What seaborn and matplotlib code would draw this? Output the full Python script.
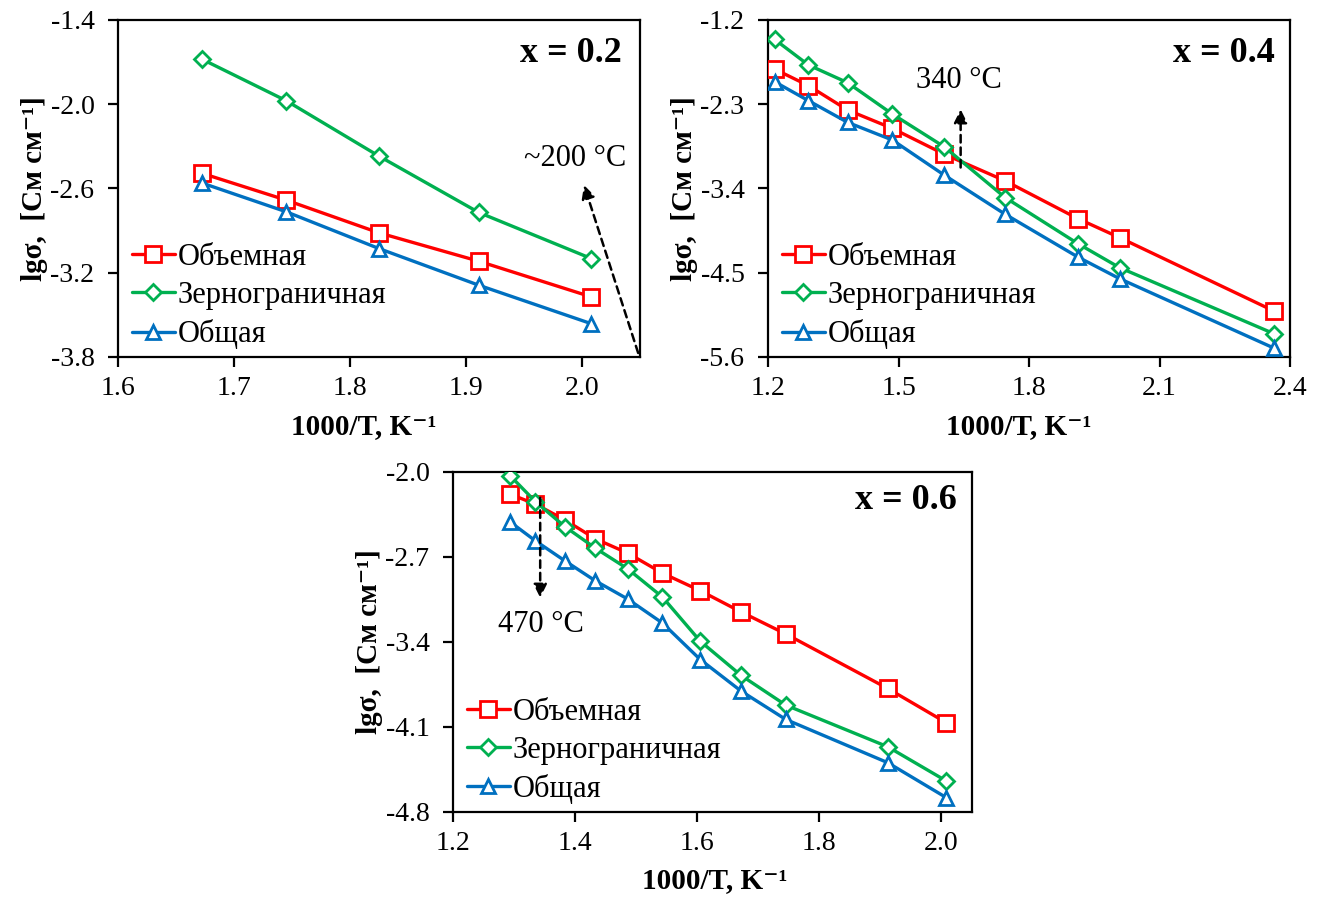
import numpy as np
import pandas as pd
import matplotlib
matplotlib.use("Agg")
import matplotlib.pyplot as plt
from matplotlib.ticker import FormatStrFormatter
import seaborn as sns

# ---------------- data ----------------
series_names = ["Объемная", "Зернограничная", "Общая"]

# x = 0.2
x02 = [1.672, 1.745, 1.825, 1.911, 2.008]
bulk02 = [-2.491, -2.683, -2.916, -3.118, -3.372]
gb02 = [-1.678, -1.975, -2.370, -2.771, -3.099]
tot02 = [-2.560, -2.766, -3.028, -3.289, -3.563]

# x = 0.4
x04 = [1.215, 1.293, 1.383, 1.486, 1.605, 1.745, 1.912, 2.008, 2.363]
bulk04 = [-1.841, -2.058, -2.376, -2.616, -2.952, -3.300, -3.793, -4.041, -5.000]
gb04 = [-1.453, -1.788, -2.019, -2.429, -2.856, -3.518, -4.119, -4.433, -5.296]
tot04 = [-2.006, -2.254, -2.537, -2.768, -3.225, -3.736, -4.294, -4.577, -5.484]

# x = 0.6
x06 = [1.294, 1.335, 1.383, 1.433, 1.486, 1.543, 1.605, 1.672, 1.745, 1.912, 2.008]
bulk06 = [-2.186, -2.268, -2.397, -2.553, -2.671, -2.836, -2.981, -3.156, -3.337, -3.786, -4.068]
gb06 = [-2.036, -2.247, -2.452, -2.630, -2.800, -3.033, -3.397, -3.679, -3.923, -4.266, -4.548]
tot06 = [-2.416, -2.570, -2.734, -2.899, -3.049, -3.247, -3.548, -3.808, -4.041, -4.397, -4.685]

# tick labels
xticks02 = [1.6, 1.7, 1.8, 1.9, 2.0]
yticks02 = [-3.8, -3.2, -2.6, -2.0, -1.4]
xticks04 = [1.2, 1.5, 1.8, 2.1, 2.4]
yticks04 = [-5.6, -4.5, -3.4, -2.3, -1.2]
xticks06 = [1.2, 1.4, 1.6, 1.8, 2.0]
yticks06 = [-4.8, -4.1, -3.4, -2.7, -2.0]

panel_titles = ["x = 0.2", "x = 0.4", "x = 0.6"]
annot_texts = ["~200 °C", "340 °C", "470 °C"]
xlabel = "1000/T, K⁻¹"
ylabel = "lgσ,  [См см⁻¹]"

# ---------------- style ----------------
sns.set_style("ticks")
plt.rcParams["font.family"] = ["Liberation Serif", "DejaVu Serif"]
plt.rcParams["axes.unicode_minus"] = False
plt.rcParams["text.color"] = "black"
plt.rcParams["axes.labelcolor"] = "black"

colors = ["#FF0000", "#00B050", "#0070C0"]
markers = ["s", "D", "^"]
msizes = [11, 8, 10]

fig = plt.figure(figsize=(13.23, 8.99), dpi=100)
ax1 = fig.add_axes([0.0892, 0.6029, 0.3946, 0.3749])
ax2 = fig.add_axes([0.5805, 0.6029, 0.3946, 0.3749])
ax3 = fig.add_axes([0.3424, 0.0972, 0.3923, 0.3782])

panels = [
    (ax1, x02, [bulk02, gb02, tot02], (1.6, 2.05), xticks02, (-3.8, -1.4), yticks02, 0.47),
    (ax2, x04, [bulk04, gb04, tot04], (1.2, 2.4), xticks04, (-5.6, -1.2), yticks04, 0.48),
    (ax3, x06, [bulk06, gb06, tot06], (1.2, 2.05), xticks06, (-4.8, -2.0), yticks06, 0.505),
]

for ax, xs, ys_list, xlim, xt, ylim, yt, xlab_x in panels:
    for name, ys, c, m, ms in zip(series_names, ys_list, colors, markers, msizes):
        df = pd.DataFrame({"x": xs, "y": ys})
        sns.lineplot(data=df, x="x", y="y", ax=ax, sort=False, color=c,
                     marker=m, markersize=ms, markerfacecolor="white",
                     markeredgecolor=c, markeredgewidth=2, linewidth=2.4,
                     label=name, zorder=3)
    ax.set_xlim(*xlim)
    ax.set_ylim(*ylim)
    ax.set_xticks(xt)
    ax.set_yticks(yt)
    ax.xaxis.set_major_formatter(FormatStrFormatter("%.1f"))
    ax.yaxis.set_major_formatter(FormatStrFormatter("%.1f"))
    ax.tick_params(direction="out", length=7, width=1.6, labelsize=20,
                   colors="black")
    ax.tick_params(axis="y", pad=10)
    ax.tick_params(axis="x", pad=7)
    for sp in ax.spines.values():
        sp.set_visible(True)
        sp.set_linewidth(1.6)
        sp.set_color("black")
    ax.set_xlabel(xlabel, fontsize=21, fontweight="bold", labelpad=8)
    ax.set_ylabel(ylabel, fontsize=21, fontweight="bold", labelpad=2)
    ax.xaxis.label.set_x(xlab_x)
    leg = ax.legend(loc="lower left", bbox_to_anchor=(0.012, 0.0),
                    frameon=False, fontsize=22,
                    handlelength=1.4, handletextpad=0.1, labelspacing=0.3,
                    borderaxespad=0.05, borderpad=0.2)
    for t in leg.get_texts():
        t.set_color("black")

# titles
ax1.text(0.965, 0.90, panel_titles[0], transform=ax1.transAxes, ha="right",
         va="center", fontsize=26, fontweight="bold")
ax2.text(0.97, 0.90, panel_titles[1], transform=ax2.transAxes, ha="right",
         va="center", fontsize=26, fontweight="bold")
ax3.text(0.971, 0.915, panel_titles[2], transform=ax3.transAxes, ha="right",
         va="center", fontsize=26, fontweight="bold")

arrow_kw = dict(arrowstyle="-|>", linestyle=(0, (3, 2)), color="black",
                lw=1.8, mutation_scale=20)
# panel 1 annotation
ax1.annotate("", xy=(0.891, 0.518), xytext=(0.998, 0.004),
             xycoords="axes fraction", textcoords="axes fraction",
             arrowprops=arrow_kw)
ax1.text(0.875, 0.59, annot_texts[0], transform=ax1.transAxes, ha="center",
         va="center", fontsize=22)
# panel 2 annotation
ax2.annotate("", xy=(0.369, 0.743), xytext=(0.369, 0.554),
             xycoords="axes fraction", textcoords="axes fraction",
             arrowprops=arrow_kw)
ax2.text(0.365, 0.82, annot_texts[1], transform=ax2.transAxes, ha="center",
         va="center", fontsize=22)
# panel 3 annotation
ax3.annotate("", xy=(0.168, 0.621), xytext=(0.168, 0.931),
             xycoords="axes fraction", textcoords="axes fraction",
             arrowprops=arrow_kw)
ax3.text(0.17, 0.55, annot_texts[2], transform=ax3.transAxes, ha="center",
         va="center", fontsize=22)

fig.savefig("out.png", dpi=100)
